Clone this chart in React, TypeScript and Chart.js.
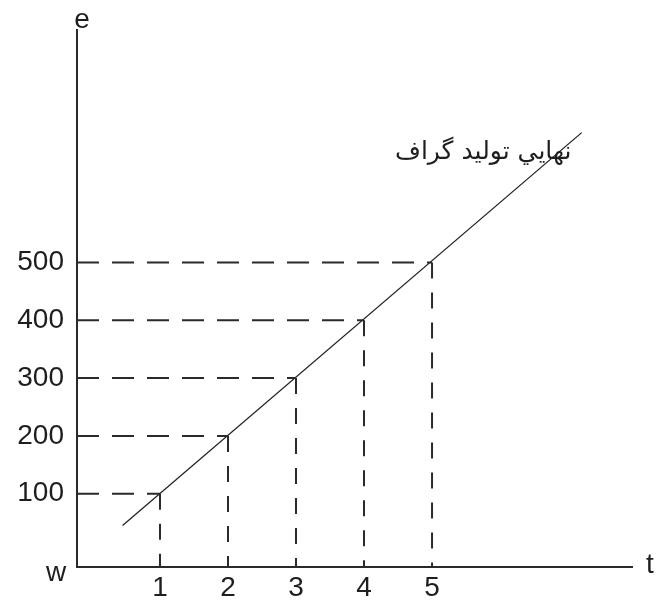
import React, { useEffect, useRef } from "react";
import { Chart, registerables } from "chart.js";

Chart.register(...registerables);

// Data
const tValues = [1, 2, 3, 4, 5];
const eValues = [100, 200, 300, 400, 500];
const xTickLabels = ["1", "2", "3", "4", "5"];
const yTickLabels = ["100", "200", "300", "400", "500"];
const lineX = [0.45, 7.2];
const lineY = [45, 725];
const curveLabel = "نهايي تولید گراف";
const xAxisName = "t";
const yAxisName = "e";
const originName = "w";

const X_MIN = -0.22;
const X_MAX = 7.94;
const Y_MIN = -27;
const Y_MAX = 903;

const FONT = "'Liberation Sans', Arial, sans-serif";
const INK = "#1e1e1e";

export default function App() {
  const ref = useRef<HTMLCanvasElement | null>(null);

  useEffect(() => {
    if (!ref.current) return;

    const datasets: any[] = [];
    tValues.forEach((t, i) => {
      const v = eValues[i];
      datasets.push({
        data: [
          { x: X_MIN, y: v },
          { x: t, y: v },
        ],
        borderColor: "#2a2a2a",
        borderWidth: 2,
        borderDash: [22, 13],
        pointRadius: 0,
        showLine: true,
      });
      datasets.push({
        data: [
          { x: t, y: v },
          { x: t, y: Y_MIN },
        ],
        borderColor: "#2a2a2a",
        borderWidth: 2,
        borderDash: [16, 14],
        pointRadius: 0,
        showLine: true,
      });
    });
    datasets.push({
      data: lineX.map((x, i) => ({ x, y: lineY[i] })),
      borderColor: "#222",
      borderWidth: 1.3,
      pointRadius: 0,
      showLine: true,
    });

    const labelsPlugin = {
      id: "axisNames",
      afterDraw(chart: any) {
        const { ctx, chartArea, scales } = chart;
        ctx.save();
        ctx.fillStyle = INK;
        ctx.font = `28px ${FONT}`;
        ctx.textBaseline = "alphabetic";
        ctx.textAlign = "center";
        ctx.fillText(originName, chartArea.left - 21, chartArea.bottom + 14);
        ctx.fillText(yAxisName, chartArea.left + 5, chartArea.top - 2);
        ctx.textAlign = "left";
        ctx.fillText(xAxisName, chartArea.right + 14, chartArea.bottom + 6);
        ctx.font = `25px 'DejaVu Sans', sans-serif`;
        ctx.direction = "rtl";
        ctx.textAlign = "right";
        const px = scales.x.getPixelForValue(7.05);
        const py = scales.y.getPixelForValue(680);
        ctx.fillText(curveLabel, px, py);
        ctx.restore();
      },
    };

    const chart = new Chart(ref.current, {
      type: "scatter",
      data: { datasets },
      options: {
        responsive: false,
        animation: false,
        layout: { padding: { top: 25, right: 24, left: 0, bottom: 0 } },
        plugins: { legend: { display: false }, tooltip: { enabled: false } },
        scales: {
          x: {
            type: "linear",
            min: X_MIN,
            max: X_MAX,
            afterBuildTicks: (scale: any) => {
              scale.ticks = tValues.map((v) => ({ value: v }));
            },
            afterFit: (scale: any) => {
              scale.height = 33;
            },
            grid: { display: false, drawTicks: false },
            border: { display: true, color: "#2a2a2a", width: 2 },
            ticks: {
              autoSkip: false,
              maxRotation: 0,
              padding: 4,
              color: INK,
              font: { family: FONT, size: 28 },
              callback: (v: any) => {
                const i = tValues.indexOf(Number(v));
                return i >= 0 ? xTickLabels[i] : "";
              },
            },
          },
          y: {
            type: "linear",
            min: Y_MIN,
            max: Y_MAX,
            afterBuildTicks: (scale: any) => {
              scale.ticks = eValues.map((v) => ({ value: v }));
            },
            afterFit: (scale: any) => {
              scale.width = 77;
            },
            grid: { display: false, drawTicks: false },
            border: { display: true, color: "#2a2a2a", width: 2 },
            ticks: {
              autoSkip: false,
              padding: 13,
              color: INK,
              font: { family: FONT, size: 28 },
              callback: (v: any) => {
                const i = eValues.indexOf(Number(v));
                return i >= 0 ? yTickLabels[i] : "";
              },
            },
          },
        },
      },
      plugins: [labelsPlugin],
    });

    return () => chart.destroy();
  }, []);

  return (
    <div style={{ position: "absolute", left: 0, top: 0, width: 656, height: 600, background: "#fff" }}>
      <canvas ref={ref} width={656} height={600} />
    </div>
  );
}
